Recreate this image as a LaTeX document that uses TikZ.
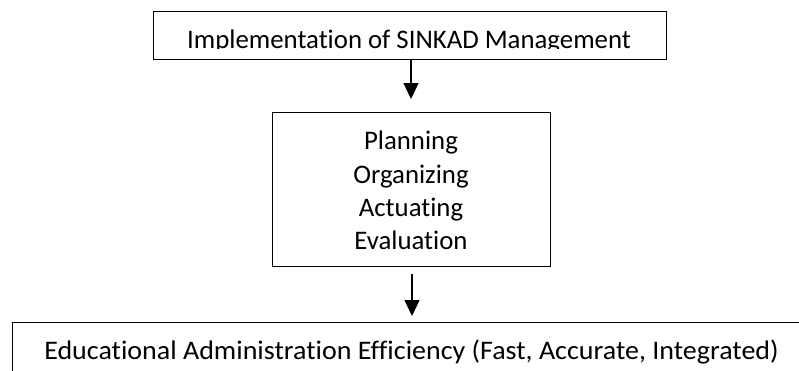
\documentclass[tikz,border=0pt]{standalone}
\usepackage{fontspec}
\setmainfont{Carlito}[Ligatures=NoCommon]
\usetikzlibrary{arrows.meta}
\begin{document}
\begin{tikzpicture}[x=1pt,y=1pt,
  boxstyle/.style={draw=black, line width=1.2pt, inner sep=0pt, fill=none},
  txt/.style={font=\fontsize{26.8}{32}\selectfont, anchor=base, inner sep=0pt},
  arr/.style={line width=1.3pt, -{Triangle[width=15pt,length=16pt]}}]
\useasboundingbox (0,0) rectangle (799,-370);
\clip (0,0) rectangle (799,-370);
% boxes
\node[boxstyle, minimum width=513pt, minimum height=48pt, anchor=north west] (top) at (153,-11) {};
\node[boxstyle, minimum width=278pt, minimum height=154pt, anchor=north west] (mid) at (272,-112) {};
\node[boxstyle, minimum width=820pt, minimum height=90pt, anchor=north west] (bot) at (12,-322) {};
% top text, clipped at its descenders
\begin{scope}
\clip (153,-11) rectangle (666,-48.5);
\node[txt] (toptext) at (409,-48) {Implementation of SINKAD Management};
\end{scope}
% middle text
\node[txt] (t1) at (411,-149) {Planning};
\node[txt] (t2) at (411,-183) {Organizing};
\node[txt] (t3) at (411,-216) {Actuating};
\node[txt] (t4) at (411,-249) {Evaluation};
% bottom text
\node[txt] (bottext) at (411.5,-359) {\scalebox{1.045}[1]{Educational Administration Efficiency (Fast, Accurate, Integrated)}};
% arrows
\coordinate (a1s) at (411,-59);
\coordinate (a1e) at (411,-99);
\coordinate (a2s) at (412,-274);
\coordinate (a2e) at (412,-316);
\draw[arr] (a1s) -- (a1e);
\draw[arr] (a2s) -- (a2e);
\end{tikzpicture}
\end{document}
